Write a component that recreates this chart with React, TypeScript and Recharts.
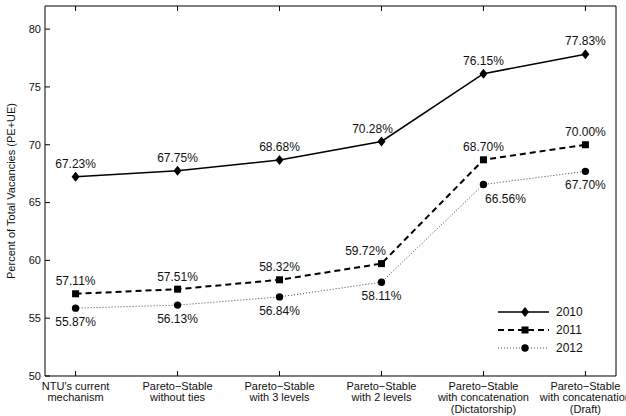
import React from 'react';
import { LineChart, Line, XAxis, YAxis, Legend, LabelList } from 'recharts';

const CATEGORIES = [
  "NTU's current\nmechanism",
  'Pareto\u2212Stable\nwithout ties',
  'Pareto\u2212Stable\nwith 3 levels',
  'Pareto\u2212Stable\nwith 2 levels',
  'Pareto\u2212Stable\nwith concatenation\n(Dictatorship)',
  'Pareto\u2212Stable\nwith concatenation\n(Draft)',
];
const Y2010 = [67.23, 67.75, 68.68, 70.28, 76.15, 77.83];
const Y2011 = [57.11, 57.51, 58.32, 59.72, 68.7, 70.0];
const Y2012 = [55.87, 56.13, 56.84, 58.11, 66.56, 67.7];
const Y_TICKS = [50, 55, 60, 65, 70, 75, 80];

// small horizontal nudges for the value labels
const DX2010 = [0, 0, 0, -9, 0, 0];
const DX2011 = [0, 0, 0, -16, 0, 0];
const DX2012 = [0, 0, 0, 0, 22, 0];

const data = CATEGORIES.map((c, i) => ({
  x: i + 1,
  y2010: Y2010[i],
  y2011: Y2011[i],
  y2012: Y2012[i],
}));

const FONT = '"Liberation Sans", Arial, Helvetica, sans-serif';

const Diamond = ({ cx, cy }: any) =>
  cx == null ? null : (
    <path d={`M${cx},${cy - 5} L${cx + 4},${cy} L${cx},${cy + 5} L${cx - 4},${cy} Z`} fill="#000" />
  );
const Square = ({ cx, cy }: any) =>
  cx == null ? null : <rect x={cx - 3.5} y={cy - 3.5} width={7} height={7} fill="#000" />;
const Circle = ({ cx, cy }: any) =>
  cx == null ? null : <circle cx={cx} cy={cy} r={3.7} fill="#000" />;

const makeLabel = (dxs: number[], dy: number) => (props: any) => {
  const { x, y, value, index } = props;
  return (
    <text x={x + dxs[index]} y={y + dy} textAnchor="middle" fontSize={12} fontFamily={FONT} fill="#111">
      {value.toFixed(2)}%
    </text>
  );
};

const CatTick = ({ x, y, payload }: any) => {
  const lines = CATEGORIES[payload.value - 1].split('\n');
  return (
    <text x={x} textAnchor="middle" fontSize={11} fontFamily={FONT} fill="#111">
      {lines.map((l, i) => (
        <tspan key={i} x={x} y={y + 14 + i * 11.3}>
          {l}
        </tspan>
      ))}
    </text>
  );
};

const LegendBox = () => {
  const rows = [
    { name: '2010', dash: undefined, w: 1.6, mark: <Diamond cx={30} cy={9} /> },
    { name: '2011', dash: '6 4', w: 2, mark: <Square cx={30} cy={27} /> },
    { name: '2012', dash: '1 2', w: 1, mark: <Circle cx={30} cy={45} /> },
  ];
  return (
    <svg width={110} height={56}>
      {rows.map((r, i) => (
        <g key={r.name}>
          <line x1={3} x2={54} y1={9 + i * 18} y2={9 + i * 18} stroke={i === 2 ? '#444' : '#000'} strokeWidth={r.w} strokeDasharray={r.dash} />
          {r.mark}
          <text x={61} y={13 + i * 18} fontSize={12} fontFamily={FONT} fill="#111">
            {r.name}
          </text>
        </g>
      ))}
    </svg>
  );
};

export default function App() {
  return (
    <div style={{ position: 'absolute', left: 0, top: 0, background: '#fff' }}>
      <LineChart width={626} height={416} data={data} margin={{ top: 0, right: 0, bottom: 0, left: 0 }}>
        <XAxis
          xAxisId="b"
          dataKey="x"
          type="number"
          domain={[0.7, 6.3]}
          ticks={[1, 2, 3, 4, 5, 6]}
          height={40}
          tickSize={-5}
          tickMargin={5}
          stroke="#000"
          tick={<CatTick />}
          interval={0}
        />
        <XAxis
          xAxisId="t"
          orientation="top"
          dataKey="x"
          type="number"
          domain={[0.7, 6.3]}
          ticks={[1, 2, 3, 4, 5, 6]}
          height={6}
          tickSize={-5}
          stroke="#000"
          tickFormatter={() => ''}
        />
        <YAxis
          yAxisId="l"
          type="number"
          domain={[50, 82]}
          ticks={Y_TICKS}
          width={45}
          tickSize={-5}
          tickMargin={9}
          stroke="#000"
          tick={{ fontSize: 11, fontFamily: FONT, fill: '#111' }}
          interval={0}
        />
        <YAxis
          yAxisId="r"
          orientation="right"
          type="number"
          domain={[50, 82]}
          ticks={Y_TICKS}
          width={10}
          tickSize={-5}
          stroke="#000"
          tickFormatter={() => ''}
        />
        <Line
          xAxisId="b"
          yAxisId="l"
          dataKey="y2010"
          stroke="#000"
          strokeWidth={1.6}
          dot={<Diamond />}
          isAnimationActive={false}
        >
          <LabelList dataKey="y2010" content={makeLabel(DX2010, -9)} />
        </Line>
        <Line
          xAxisId="b"
          yAxisId="l"
          dataKey="y2011"
          stroke="#000"
          strokeWidth={2}
          strokeDasharray="6 4"
          dot={<Square />}
          isAnimationActive={false}
        >
          <LabelList dataKey="y2011" content={makeLabel(DX2011, -8.5)} />
        </Line>
        <Line
          xAxisId="b"
          yAxisId="l"
          dataKey="y2012"
          stroke="#444"
          strokeWidth={1}
          strokeDasharray="1 2"
          dot={<Circle />}
          isAnimationActive={false}
        >
          <LabelList dataKey="y2012" content={makeLabel(DX2012, 18)} />
        </Line>
        <Legend
          layout="vertical"
          align="center"
          verticalAlign="middle"
          content={<LegendBox />}
          wrapperStyle={{ position: 'absolute', left: 495, top: 303, width: 110, height: 56 }}
        />
        <text
          x={15}
          y={191}
          transform="rotate(-90 15 191)"
          textAnchor="middle"
          fontSize={11}
          fontFamily={FONT}
          fill="#111"
        >
          Percent of Total Vacancies (PE+UE)
        </text>
      </LineChart>
    </div>
  );
}
